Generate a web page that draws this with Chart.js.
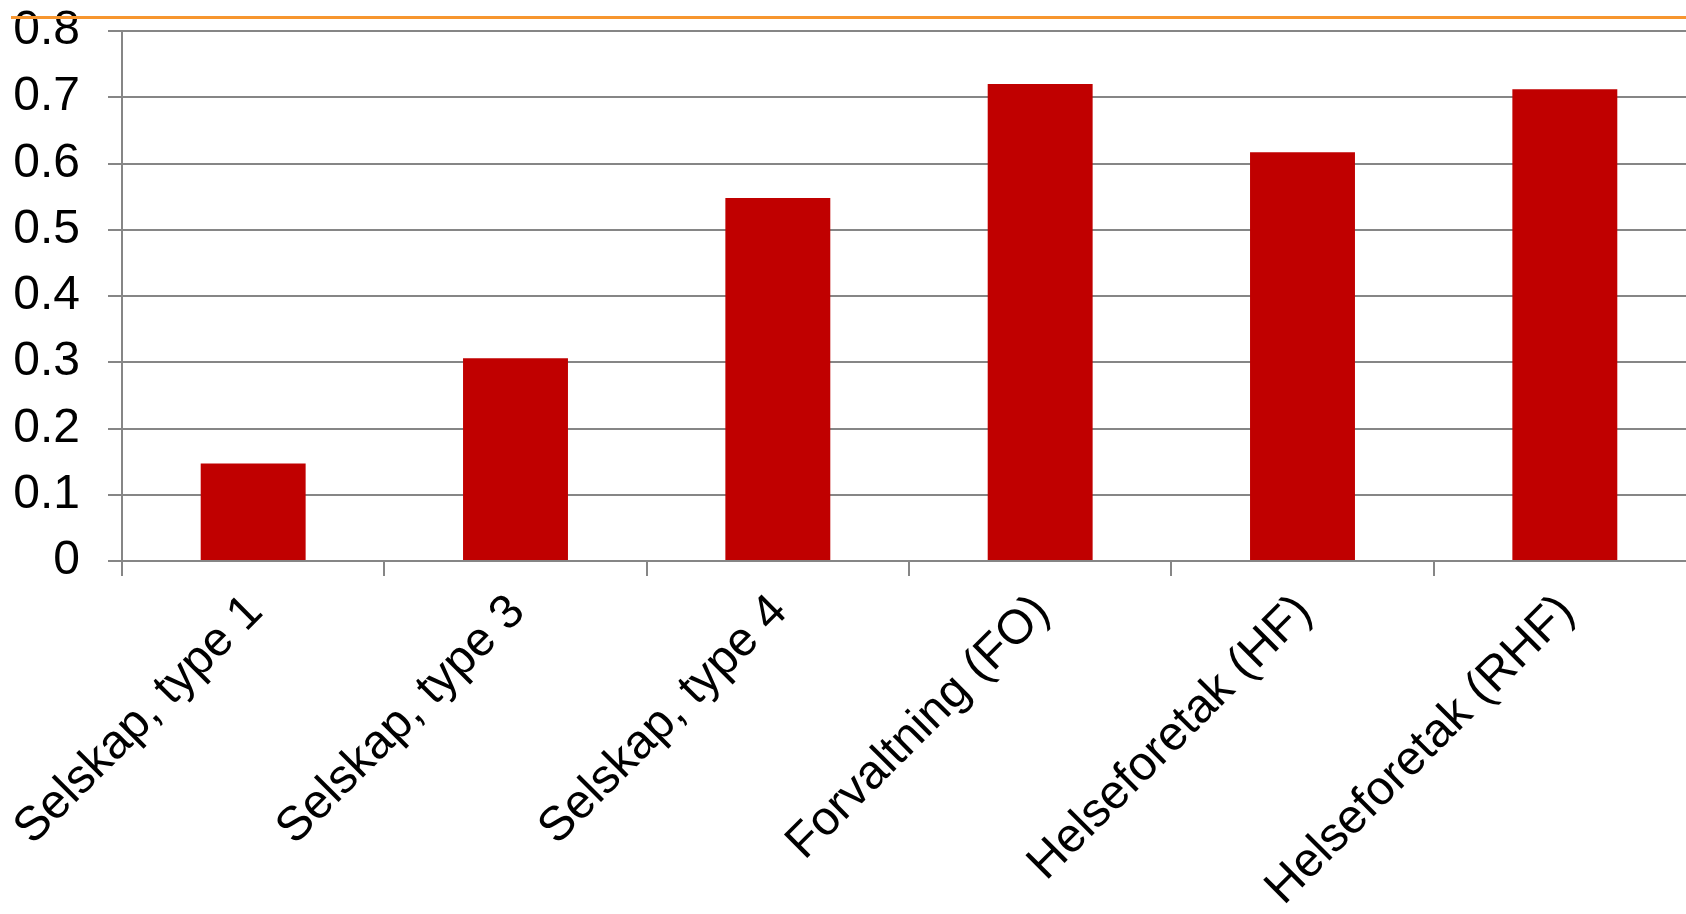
<!DOCTYPE html>
<html>
<head>
<meta charset="utf-8">
<script src="https://cdn.jsdelivr.net/npm/chart.js@4/dist/chart.umd.min.js"></script>
<style>
  html, body { margin: 0; padding: 0; background: #fff; overflow: hidden; }
  #wrap { position: relative; width: 1686px; height: 914px; overflow: hidden; }
  #rule { position: absolute; left: 11px; top: 16px; width: 1675px; height: 3px; background: #F7962F; z-index: 2; }
  canvas { position: absolute; left: 0; top: 0; }
</style>
</head>
<body>
<div id="wrap">
  <canvas id="c" width="1700" height="914" style="width:1700px;height:914px"></canvas>
  <div id="rule"></div>
</div>
<script>
const categories = ["Selskap, type 1", "Selskap, type 3", "Selskap, type 4", "Forvaltning (FO)", "Helseforetak (HF)", "Helseforetak (RHF)"];
const values = [0.147, 0.306, 0.548, 0.720, 0.617, 0.712];
const yTicks = [0, 0.1, 0.2, 0.3, 0.4, 0.5, 0.6, 0.7, 0.8];

const FONT = "'Liberation Sans', Arial, sans-serif";
const GRID = '#868686';

function noPad(s) { s.paddingTop = 0; s.paddingBottom = 0; s.paddingLeft = 0; s.paddingRight = 0; }

new Chart(document.getElementById('c'), {
  type: 'bar',
  data: {
    labels: categories,
    datasets: [{
      data: values,
      backgroundColor: '#C00000',
      borderWidth: 0,
      categoryPercentage: 1,
      barPercentage: 0.4
    }]
  },
  options: {
    responsive: false,
    devicePixelRatio: 1,
    animation: false,
    layout: { padding: { left: 15, top: 31, right: 4, bottom: 0 } },
    plugins: { legend: { display: false }, tooltip: { enabled: false } },
    scales: {
      x: {
        offset: true,
        grid: { offset: true, drawOnChartArea: false, drawTicks: true, tickLength: 15, color: GRID, lineWidth: 2 },
        border: { color: GRID, width: 2 },
        ticks: {
          autoSkip: false,
          minRotation: 45,
          maxRotation: 45,
          padding: 8,
          labelOffset: 2,
          color: '#000',
          font: { family: FONT, size: 48 }
        },
        afterFit: (s) => { s.height = 353; noPad(s); }
      },
      y: {
        min: 0,
        max: 0.8,
        afterBuildTicks: (s) => { s.ticks = yTicks.map(v => ({ value: v })); },
        grid: { color: GRID, lineWidth: 2, tickLength: 14, drawTicks: true },
        border: { color: GRID, width: 2 },
        ticks: {
          padding: 28,
          color: '#000',
          font: { family: FONT, size: 48 },
          callback: (v) => String(Math.round(v * 10) / 10)
        },
        afterFit: (s) => { s.width = 107; noPad(s); }
      }
    }
  }
});
</script>
</body>
</html>
